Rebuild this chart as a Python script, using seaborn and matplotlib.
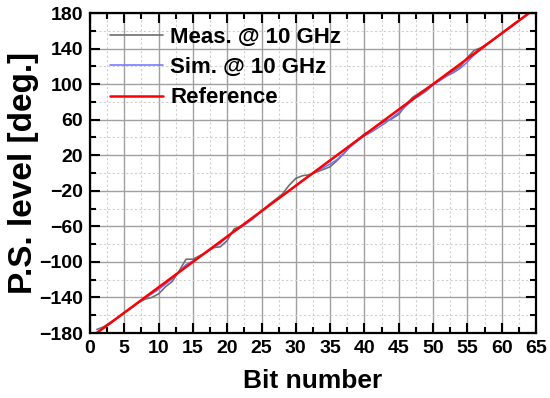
import matplotlib
matplotlib.use("Agg")
import matplotlib.pyplot as plt
from matplotlib.ticker import MultipleLocator
import seaborn as sns

# bit index 1..64
bits = list(range(1, 65))

meas = [-176, -173, -168, -163, -157, -152, -146, -142, -140, -136,
        -128, -122, -110, -97, -97, -93, -89, -84, -83, -76,
        -63, -60, -55, -49, -43, -36, -30, -24, -14, -6,
        -3, -2, 1, 4, 7, 14, 22, 31, 37, 44,
        48, 54, 58, 61, 66, 76, 85, 90, 95, 100,
        105, 110, 115, 120, 130, 138, 141, 146, 151, 157,
        163, 169, 174, 180]

# simulated level at 10 GHz (deg)
sim = [-179, -174, -169, -163, -157, -152, -146, -141, -136, -131,
       -125, -119, -111, -103, -99, -94, -89, -84, -79, -72,
       -66, -61, -56, -50, -43, -37, -31, -26, -20, -14,
       -8, -3, 2, 6, 10, 15, 22, 30, 36, 42,
       46, 51, 56, 62, 68, 75, 82, 87, 92, 99,
       104, 109, 113, 118, 125, 133, 139, 145, 151, 157,
       162, 168, 174, 180]

# ideal reference line (end points)
ref_bits = [1, 64]
ref_deg = [-180, 180]

sns.set_style("white")
plt.rcParams['font.family'] = ['Liberation Sans', 'DejaVu Sans']
plt.rcParams['font.weight'] = 'bold'
for k in ['text.color', 'axes.labelcolor', 'xtick.color', 'ytick.color']:
    plt.rcParams[k] = 'black'

fig = plt.figure(figsize=(5.5, 3.98), dpi=100)
ax = fig.add_axes([0.1636, 0.1633, 0.8109, 0.804])

sns.lineplot(x=bits, y=meas, ax=ax, color='#707070', lw=1.2, label='Meas. @ 10 GHz')
sns.lineplot(x=bits, y=sim, ax=ax, color='#6f6fff', lw=1.1, label='Sim. @ 10 GHz')
sns.lineplot(x=ref_bits, y=ref_deg, ax=ax, color='#ff0000', lw=1.8, label='Reference')

ax.set_xlim(0, 65)
ax.set_ylim(-180, 180)
ax.xaxis.set_major_locator(MultipleLocator(5))
ax.xaxis.set_minor_locator(MultipleLocator(2.5))
ax.yaxis.set_major_locator(MultipleLocator(40))
ax.yaxis.set_minor_locator(MultipleLocator(20))
ax.set_yticks(range(-180, 181, 40))

ax.grid(which='major', color='#a0a0a0', lw=1.0, ls='-')
ax.grid(which='minor', color='#d0d0d0', lw=0.8, ls=(0, (2, 2)))
ax.set_axisbelow(True)

ax.tick_params(which='both', direction='in', top=True, right=True,
               bottom=True, left=True, width=1.5, color='black')
ax.tick_params(which='major', length=7, labelsize=14, pad=5)
ax.tick_params(which='minor', length=4)
for s in ax.spines.values():
    s.set_linewidth(1.6)
    s.set_color('black')
for lab in ax.get_xticklabels() + ax.get_yticklabels():
    lab.set_fontweight('bold')

ax.set_xlabel('Bit number', fontsize=19, fontweight='bold', labelpad=9)
ax.set_ylabel('P.S. level [deg.]', fontsize=24, fontweight='bold', labelpad=0)

leg = ax.legend(loc='upper left', bbox_to_anchor=(0.025, 0.985), frameon=False,
                handlelength=2.4, handletextpad=0.3, labelspacing=0.42,
                borderaxespad=0.0, prop={'weight': 'bold', 'size': 16})

fig.savefig('out.png', dpi=100)
